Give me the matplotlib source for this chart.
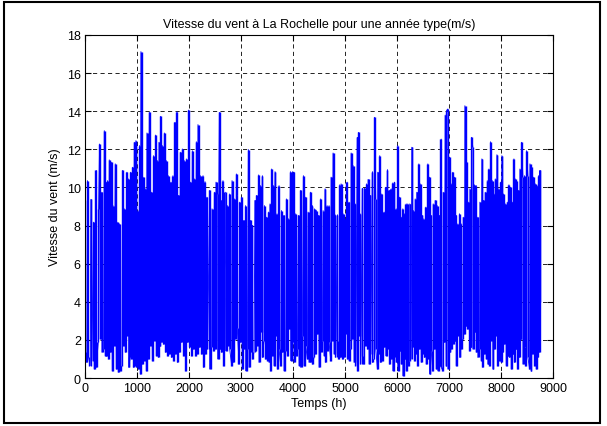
import numpy as np
import matplotlib
matplotlib.use("Agg")
import matplotlib.pyplot as plt
from matplotlib.patches import Rectangle

# =====================================================
# Data (hourly wind, one year)
# upper envelope: local maxima, lower envelope: local minima
# =====================================================

peak_hours = [
    0, 50, 114, 165, 217, 262, 281, 326, 371, 403, 435, 467, 505, 538, 582,
    615, 666, 724, 756, 807, 839, 878, 916, 948, 980, 1019, 1051, 1076, 1115,
    1160, 1192, 1237, 1275, 1320, 1359, 1397, 1423, 1455, 1487, 1526, 1564,
    1602, 1654, 1692, 1731, 1769, 1801, 1833, 1872, 1910, 1949, 1994, 2026,
    2064, 2109, 2141, 2173, 2218, 2270, 2308, 2347, 2398, 2443, 2488, 2520,
    2552, 2584, 2616, 2654, 2699, 2744, 2783, 2828, 2873, 2911,
    2930, 2975, 3013, 3058, 3090, 3142, 3180, 3219, 3270, 3302, 3341, 3373,
    3411, 3450, 3488, 3527, 3559, 3591, 3623, 3655, 3693, 3732, 3777, 3828,
    3873, 3912, 3950, 3989, 4021, 4053, 4104, 4149, 4200, 4245, 4290, 4335,
    4373, 4412, 4450, 4489, 4534, 4579, 4617, 4656, 4694, 4733, 4771, 4810,
    4855, 4899, 4925, 4964, 5002, 5041, 5079, 5118, 5156, 5195, 5239, 5259,
    5291, 5336, 5374, 5413, 5445, 5483, 5528, 5567, 5592, 5631, 5669, 5708,
    5753, 5785, 5817,
    5856, 5888, 5920, 5952, 5984, 6016, 6049, 6081, 6113, 6145, 6177, 6209,
    6247, 6286, 6318, 6350, 6382, 6421, 6446, 6478, 6517, 6555, 6594, 6626,
    6658, 6696, 6735, 6773, 6818, 6850, 6889, 6927, 6953, 6979, 7011, 7043,
    7075, 7107, 7139, 7171, 7203, 7235, 7274, 7306, 7338, 7370, 7402, 7434,
    7460, 7492, 7524, 7556, 7595, 7633, 7665, 7697, 7736, 7768, 7800, 7832,
    7864, 7890, 7922, 7960, 7992, 8018, 8050, 8082, 8121, 8153, 8185, 8217,
    8249, 8275, 8300, 8339, 8364, 8396, 8422, 8454, 8493, 8518, 8557, 8589,
    8621, 8659, 8692, 8724, 8749,
]

peak_speed = [
    9.32, 10.36, 9.37, 8.18, 10.89, 8.88, 12.28, 9.75, 12.98, 10.28, 10.36,
    11.45, 11.32, 9.05, 11.24, 8.18, 8.09, 10.89, 8.88, 10.80, 10.45, 10.80,
    11.06, 12.37, 12.46, 8.79, 12.20, 17.13, 10.54, 9.93, 12.86, 13.94, 9.75,
    11.67, 12.75, 11.41, 12.37, 13.73, 12.20, 12.86, 11.41, 10.62, 10.28,
    10.62, 13.42, 13.98, 9.58, 11.85, 12.02, 11.41, 11.50, 14.06, 10.28,
    11.93, 10.45, 12.40, 13.30, 10.62, 10.62, 10.31, 9.49, 9.84, 8.88, 9.75,
    10.28, 9.66, 13.94, 9.32, 10.36, 9.75, 9.05, 9.66, 10.36, 9.40, 10.71,
    9.58, 9.23, 9.49, 8.27, 9.05, 11.99, 8.27, 8.01, 9.32, 9.58, 10.66, 10.10,
    10.62, 9.05, 8.44, 8.71, 9.14, 10.97, 10.10, 10.83, 8.62, 10.10, 8.79,
    8.53, 9.40, 8.36, 10.83, 10.83, 10.80, 8.62, 8.53, 9.84, 10.62, 9.49,
    8.71, 9.75, 9.05, 8.88, 8.79, 8.53, 9.40, 8.79, 9.93, 9.05, 9.05, 10.54,
    11.81, 8.57, 8.57, 10.14, 10.19, 8.62, 8.36, 10.28, 9.23, 11.81, 11.15,
    9.14, 12.63, 12.89, 8.62, 9.96, 9.96, 10.19, 10.42, 9.58, 10.83, 13.68,
    9.40, 10.80, 11.67, 9.66, 8.71, 10.01, 10.94,
    9.84, 9.93, 10.24, 10.28, 8.88, 12.20, 9.49, 8.44, 8.88, 8.62, 9.14, 9.14,
    9.14, 12.11, 8.79, 9.40, 9.75, 11.24, 10.19, 8.53, 8.36, 8.97, 11.24,
    10.54, 8.53, 9.14, 9.32, 9.05, 8.53, 12.54, 9.75, 13.80, 14.03, 14.12,
    11.58, 10.19, 10.80, 10.54, 8.53, 8.09, 8.62, 8.09, 8.44, 14.29, 11.32,
    9.23, 9.93, 12.63, 12.11, 10.14, 10.10, 8.44, 9.23, 11.50, 9.32, 9.75,
    10.36, 10.97, 12.40, 10.36, 9.66, 10.45, 11.72, 9.93, 10.28, 11.67, 9.66,
    9.14, 9.23, 10.14, 10.01, 9.23, 11.50, 10.45, 10.36, 9.84, 10.97, 12.37,
    10.54, 10.62, 11.93, 10.62, 11.24, 11.06, 10.54, 10.19, 10.10, 10.62,
    10.89,
]

trough_hours = [
    0, 37, 69, 101, 133, 178, 217, 255, 294, 326, 358, 390, 422, 454, 486,
    525, 563, 602, 640, 679, 711, 743, 775, 807, 839, 871, 903, 935, 967, 999,
    1031, 1064, 1102, 1141, 1179, 1218, 1256, 1295, 1333, 1371, 1410, 1448,
    1480, 1513, 1551, 1590, 1628, 1667, 1705, 1744, 1782, 1821, 1859, 1898,
    1936, 1974, 2013, 2051, 2090, 2128, 2167, 2205, 2244, 2282, 2321, 2359,
    2398, 2436, 2475, 2513, 2552, 2590, 2629, 2667, 2706, 2744, 2783, 2821,
    2860,
    2898, 2930, 2962, 2994, 3026, 3058, 3090, 3123, 3155, 3187, 3219, 3251,
    3283, 3315, 3347, 3379, 3411, 3443, 3475, 3507, 3540, 3572, 3604, 3636,
    3668, 3700, 3732, 3764, 3796, 3828, 3860, 3892, 3924, 3956, 3989, 4021,
    4053, 4085, 4117, 4149, 4181, 4213, 4245, 4277, 4309, 4341, 4373, 4406,
    4438, 4470, 4502, 4534, 4566, 4598, 4630, 4662, 4694, 4726, 4758, 4790,
    4823, 4855, 4887, 4919, 4951, 4983, 5015, 5047, 5079, 5111, 5143, 5175,
    5207, 5239, 5272, 5304, 5336, 5368, 5400, 5432, 5464, 5496, 5528, 5560,
    5592, 5624, 5656, 5688, 5721, 5753, 5785, 5817,
    5856, 5888, 5920, 5952, 5984, 6016, 6049, 6081, 6113, 6145, 6177, 6209,
    6241, 6273, 6305, 6337, 6369, 6401, 6433, 6466, 6498, 6530, 6562, 6594,
    6626, 6658, 6690, 6722, 6754, 6786, 6818, 6850, 6882, 6915, 6947, 6979,
    7011, 7043, 7075, 7107, 7139, 7171, 7203, 7235, 7267, 7299, 7331, 7364,
    7396, 7428, 7460, 7492, 7524, 7556, 7588, 7620, 7652, 7684, 7716, 7749,
    7781, 7813, 7845, 7877, 7909, 7941, 7973, 8005, 8037, 8069, 8101, 8133,
    8165, 8197, 8230, 8262, 8294, 8326, 8358, 8390, 8422, 8454, 8486, 8518,
    8550, 8582, 8614, 8646, 8678, 8710, 8743, 8760,
]

trough_speed = [
    1.35, 0.82, 1.08, 0.65, 0.91, 0.47, 0.56, 1.87, 2.05, 1.35, 1.52, 1.17,
    1.17, 1.00, 1.35, 0.38, 1.70, 0.47, 0.30, 0.38, 0.65, 1.70, 1.35, 2.22,
    0.56, 1.08, 1.00, 0.56, 0.65, 0.56, 0.47, 0.21, 0.73, 0.91, 0.38, 1.00,
    1.70, 0.91, 1.96, 1.17, 1.08, 1.70, 1.87, 1.78, 1.35, 1.17, 1.26, 1.08,
    0.91, 1.26, 0.82, 1.35, 1.87, 1.17, 0.38, 1.87, 1.61, 1.17, 1.52, 1.17,
    1.26, 1.61, 1.26, 0.56, 1.26, 1.52, 0.47, 1.61, 1.43, 1.52, 1.00, 1.52,
    1.35, 0.65, 1.43, 1.70, 1.52, 0.65, 0.82,
    2.05, 2.60, 0.73, 1.87, 0.47, 1.52, 0.38, 1.52, 0.56, 1.35, 1.00, 1.35,
    1.43, 1.70, 0.82, 2.40, 1.08, 1.96, 1.00, 0.91, 0.82, 0.38, 1.17, 0.65,
    2.22, 0.47, 1.52, 0.65, 1.35, 0.38, 1.43, 1.17, 2.57, 0.91, 1.87, 0.82,
    1.17, 1.52, 0.65, 0.56, 2.22, 0.65, 1.70, 1.00, 0.82, 0.82, 0.73, 1.08,
    1.26, 2.31, 0.56, 1.35, 1.96, 1.17, 0.82, 1.43, 1.87, 0.91, 1.96, 1.26,
    1.08, 1.96, 1.00, 1.08, 1.00, 1.08, 2.31, 1.00, 0.91, 1.52, 2.05, 0.82,
    0.65, 0.38, 2.22, 0.73, 1.17, 0.73, 1.70, 1.52, 0.73, 1.26, 0.82, 1.00,
    1.52, 0.47, 1.26, 0.82, 0.91, 1.61, 1.17, 1.52,
    0.73, 1.00, 0.38, 1.08, 0.82, 0.38, 1.43, 0.73, 0.12, 1.00, 0.38, 0.65,
    0.91, 1.00, 1.61, 0.91, 1.26, 0.65, 1.52, 0.82, 1.26, 1.08, 0.73, 1.00,
    0.21, 1.43, 0.38, 1.52, 0.47, 0.38, 0.65, 0.56, 0.38, 1.87, 0.65, 0.47,
    1.35, 1.52, 1.78, 1.96, 0.65, 2.22, 1.08, 1.52, 2.05, 2.31, 2.75, 2.57,
    1.43, 1.61, 1.52, 2.40, 1.35, 1.08, 1.52, 0.91, 0.56, 1.26, 1.00, 0.73,
    0.65, 1.96, 0.47, 1.52, 2.22, 0.65, 0.91, 0.82, 1.35, 1.78, 0.65, 1.17,
    1.08, 0.47, 1.26, 0.82, 1.52, 0.47, 1.08, 2.05, 0.73, 1.61, 0.65, 1.08,
    0.47, 0.38, 1.26, 0.65, 0.47, 1.08, 1.35, 4.0,
]

x_ticks = [0, 1000, 2000, 3000, 4000, 5000, 6000, 7000, 8000, 9000]
y_ticks = [0, 2, 4, 6, 8, 10, 12, 14, 16, 18]

# =====================================================
# Build one series (maxima and minima merged in time)
# =====================================================

hours = np.array(peak_hours + trough_hours, dtype=float)
speed = np.array(peak_speed + trough_speed, dtype=float)
order = np.argsort(hours, kind="stable")
hours = hours[order]
speed = speed[order]

# hourly data is so dense that each pixel column is one solid stroke
# from min to max: draw that stroke between every pair of neighbours
stroke_x = (hours[:-1] + hours[1:]) / 2
stroke_lo = np.minimum(speed[:-1], speed[1:])
stroke_hi = np.maximum(speed[:-1], speed[1:])

# =====================================================
# Figure
# =====================================================

plt.rcParams["font.family"] = ["Liberation Sans", "DejaVu Sans"]
plt.rcParams["font.size"] = 9

fig = plt.figure(figsize=(6.07, 4.27), dpi=100)
ax = fig.add_axes([0.140, 0.1124, 0.771, 0.8033])

ax.vlines(stroke_x, stroke_lo, stroke_hi, color=(0, 0, 1), linewidth=1.0)
ax.plot(hours, speed, color=(0, 0, 1), linewidth=0.6)

ax.set_xlim(0, 9000)
ax.set_ylim(0, 18)
ax.set_xticks(x_ticks)
ax.set_yticks(y_ticks)

ax.grid(True, color="black", linestyle=(0, (5, 4)), linewidth=0.6)
ax.tick_params(direction="in", length=4, width=0.8, top=True, right=True,
               labelsize=9, pad=3)

for spine in ax.spines.values():
    spine.set_linewidth(0.8)

ax.set_title("Vitesse du vent à La Rochelle pour une année type(m/s)",
             fontsize=9, pad=6)
ax.set_xlabel("Temps (h)", fontsize=9, labelpad=2)
ax.set_ylabel("Vitesse du vent (m/s)", fontsize=9, labelpad=4)

# outer frame round the whole figure
fig.patches.append(Rectangle((0.007, 0.006), 0.981, 0.988,
                             transform=fig.transFigure, fill=False,
                             edgecolor="black", linewidth=1.5))

fig.savefig("out.png", dpi=100)
